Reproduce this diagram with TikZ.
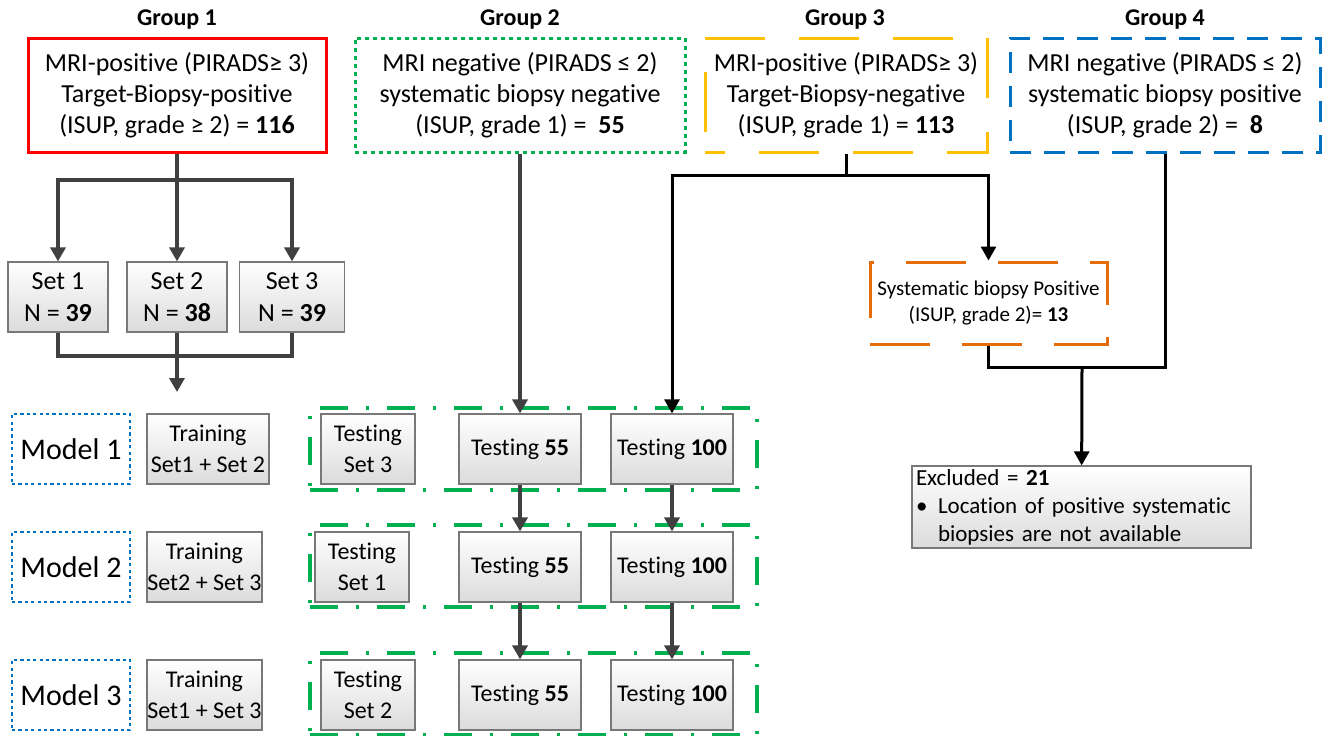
\documentclass[tikz,border=0pt]{standalone}
\usepackage{fontspec}
\setmainfont{Carlito}[Ligatures=CommonOff]
\usetikzlibrary{arrows.meta, positioning, calc}
\definecolor{redline}{RGB}{255,0,0}
\definecolor{greenline}{RGB}{0,176,80}
\definecolor{amberline}{RGB}{255,192,0}
\definecolor{blueline}{RGB}{0,112,192}
\definecolor{orangeline}{RGB}{228,108,10}
\definecolor{arrowgray}{RGB}{64,64,64}
\definecolor{boxborder}{RGB}{120,120,120}

\begin{document}
\begin{tikzpicture}[
    x=0.5pt, y=-0.5pt,
    every node/.style={font=\fontsize{12}{15.5}\selectfont, align=center, inner sep=0pt},
    title/.style={font=\fontsize{12}{14}\selectfont\bfseries},
    groupbox/.style={line width=1.5pt, minimum height=57pt, font=\fontsize{13}{15.5}\selectfont},
    graybox/.style={draw=boxborder, line width=0.6pt, top color=white, bottom color=black!14, minimum height=35pt},
    setbox/.style={graybox, font=\fontsize{13}{16}\selectfont},
    modelbox/.style={draw=blueline, line width=1.2pt, dash pattern=on 1.6pt off 1.6pt, minimum width=59pt, minimum height=35pt, font=\fontsize{15}{18}\selectfont},
    rowbox/.style={draw=greenline, line width=1.7pt, dash pattern=on 14pt off 9pt on 1.5pt off 9pt, minimum width=223.5pt, minimum height=41pt},
    grayline/.style={draw=arrowgray, line width=1.7pt},
    grayarrow/.style={grayline, -{Triangle[length=7pt, width=7.5pt]}},
    blkline/.style={draw=black, line width=1.5pt},
    blkarrow/.style={blkline, -{Triangle[length=7pt, width=7.5pt]}}
]
    \useasboundingbox (0,0) rectangle (1326,735);

    % Group titles
    \node[title] (t1) at (177,20) {Group 1};
    \node[title] (t2) at (520,20) {Group 2};
    \node[title] (t3) at (845,20) {Group 3};
    \node[title] (t4) at (1165,20) {Group 4};

    % Groups
    \node[groupbox, draw=redline, minimum width=149pt] (g1) at (177,95)
        {MRI-positive (PIRADS≥ 3)\\Target-Biopsy-positive\\(ISUP, grade ≥ 2) = \textbf{116}};
    \node[groupbox, draw=greenline, dash pattern=on 2pt off 2pt, minimum width=165pt] (g2) at (520,95)
        {MRI negative (PIRADS ≤ 2)\\systematic biopsy negative\\(ISUP, grade 1) =\ \ \textbf{55}};
    \node[groupbox, draw=amberline, dash pattern=on 30pt off 17pt, dash phase=20pt, minimum width=141pt] (g3) at (846,95)
        {MRI-positive (PIRADS≥ 3)\\Target-Biopsy-negative\\(ISUP, grade 1) = \textbf{113}};
    \node[groupbox, draw=blueline, dash pattern=on 10.5pt off 6.5pt, minimum width=155pt] (g4) at (1165,95)
        {MRI negative (PIRADS ≤ 2)\\systematic biopsy positive\\(ISUP, grade 2) =\ \ \textbf{8}};

    % Sets
    \node[setbox, minimum width=50pt] (set1) at (58,297) {Set 1\\N = \textbf{39}};
    \node[setbox, minimum width=50pt] (set2) at (177,297) {Set 2\\N = \textbf{38}};
    \node[setbox, minimum width=52.5pt] (set3) at (292,297) {Set 3\\N = \textbf{39}};

    % Testing rows
    \node[rowbox] (row1) at (533.5,449) {};
    \node[rowbox] (row2) at (533.5,566) {};
    \node[rowbox] (row3) at (533.5,694) {};

    % Models
    \node[modelbox] (m1) at (71,449) {Model 1};
    \node[modelbox] (m2) at (71,567) {Model 2};
    \node[modelbox] (m3) at (71,695) {Model 3};

    \node[graybox, minimum width=61pt] (tr1) at (208,449) {Training\\Set1 + Set 2};
    \node[graybox, minimum width=57.5pt] (tr2) at (204.5,567) {Training\\Set2 + Set 3};
    \node[graybox, minimum width=57.5pt] (tr3) at (204.5,695) {Training\\Set1 + Set 3};

    \node[graybox, minimum width=47pt] (ts1) at (368,449) {Testing\\Set 3};
    \node[graybox, minimum width=47pt] (ts2) at (362,567) {Testing\\Set 1};
    \node[graybox, minimum width=47pt] (ts3) at (368,695) {Testing\\Set 2};

    \node[graybox, minimum width=61pt] (fa1) at (520,449) {Testing \textbf{55}};
    \node[graybox, minimum width=61pt] (fa2) at (520,567) {Testing \textbf{55}};
    \node[graybox, minimum width=61pt] (fa3) at (520,695) {Testing \textbf{55}};

    \node[graybox, minimum width=61pt] (hu1) at (672,449) {Testing \textbf{100}};
    \node[graybox, minimum width=61pt] (hu2) at (672,567) {Testing \textbf{100}};
    \node[graybox, minimum width=61pt] (hu3) at (672,695) {Testing \textbf{100}};

    % Systematic positive and excluded
    \node[draw=orangeline, line width=1.5pt, dash pattern=on 30pt off 16pt, minimum width=118.5pt, minimum height=41pt,
          font=\fontsize{10.5}{13}\selectfont] (sys) at (988.5,303)
        {Systematic biopsy Positive\\(ISUP, grade 2)= \textbf{13}};
    \node[graybox, minimum width=169.5pt, minimum height=41pt, text width=165.5pt, align=left,
          font=\fontsize{11.5}{14}\selectfont] (excl) at (1081.5,507)
        {Excluded = \textbf{21}\\\makebox[11pt][l]{\textbullet}Location of positive systematic\\\hspace*{11pt}biopsies are not available};

    % Bus points
    \coordinate (g1split) at (177,180);
    \coordinate (setjoin) at (177,356);
    \coordinate (trainend) at (177,392);
    \coordinate (g3split) at (846,175);
    \coordinate (exjoin) at (1082,367);

    % Connectors
    \draw[grayline] (g1) -- (g1split);
    \draw[grayarrow] (g1split) -| (set1);
    \draw[grayarrow] (g1split) -- (set2);
    \draw[grayarrow] (g1split) -| (set3);
    \draw[grayline] (set1) |- (setjoin);
    \draw[grayline] (set3) |- (setjoin);
    \draw[grayarrow] (set2) -- (trainend);

    \draw[grayarrow] (g2) -- (fa1);
    \draw[grayarrow] (fa1) -- (fa2);
    \draw[grayarrow] (fa2) -- (fa3);
    \draw[grayarrow] (hu1) -- (hu2);
    \draw[grayarrow] (hu2) -- (hu3);

    \draw[blkline] (g3) -- (g3split);
    \draw[blkarrow] (g3split) -| (hu1);
    \draw[blkarrow] (g3split) -| (sys);
    \draw[blkline] (g4) |- (exjoin);
    \draw[blkline] (sys) |- (exjoin);
    \draw[blkarrow] (exjoin) -- (excl);
\end{tikzpicture}
\end{document}
